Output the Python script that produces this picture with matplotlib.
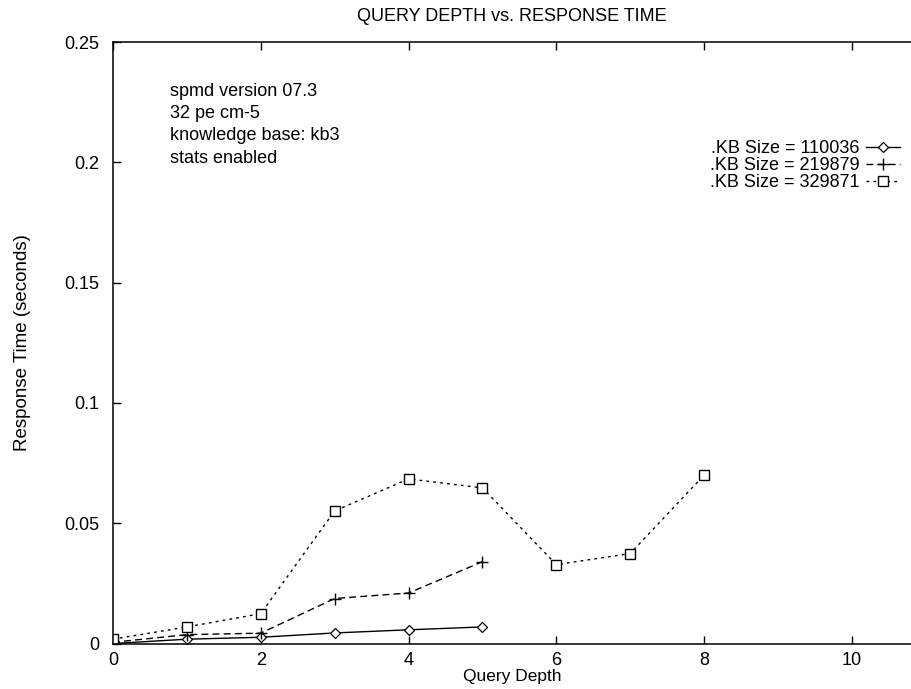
import numpy as np
import matplotlib.pyplot as plt

plt.rcParams['font.family'] = ['Liberation Sans', 'DejaVu Sans']

# values
depth_a = [0, 1, 2, 3, 4, 5]
time_a = [0.0, 0.0018, 0.0026, 0.0044, 0.0057, 0.0069]

depth_b = [0, 1, 2, 3, 4, 5]
time_b = [0.0005, 0.0037, 0.0043, 0.0187, 0.021, 0.034]

depth_c = [0, 1, 2, 3, 4, 5, 6, 7, 8]
time_c = [0.0018, 0.0069, 0.0124, 0.0551, 0.0684, 0.0647, 0.0328, 0.0374, 0.070]

labels = ['.KB Size = 110036', '.KB Size = 219879', '.KB Size = 329871']
notes = ['spmd version 07.3', '32 pe cm-5', 'knowledge base: kb3', 'stats enabled']

fig = plt.figure(figsize=(9.11, 6.89), dpi=100)
ax = fig.add_axes([0.124, 0.066, 0.876, 0.873])

ax.plot(depth_a, time_a, color='black', lw=1.0, ls='-', marker='D', ms=5,
        mfc='white', mec='black', mew=0.9, label=labels[0])
ax.plot(depth_b, time_b, color='black', lw=1.0, ls=(0, (5, 3)), marker='+', ms=9,
        mew=1.0, label=labels[1])
ax.plot(depth_c, time_c, color='black', lw=1.0, ls=(0, (2, 3)), marker='s', ms=7,
        mfc='white', mec='black', mew=1.0, label=labels[2])

ax.set_xlim(0, 10.8)
ax.set_ylim(0, 0.25)
ax.set_xticks([0, 2, 4, 6, 8, 10])
ax.set_yticks([0, 0.05, 0.1, 0.15, 0.2, 0.25])
ax.set_yticklabels(['0', '0.05', '0.1', '0.15', '0.2', '0.25'])
ax.tick_params(direction='in', length=6, width=1, labelsize=13, top=True, right=False)
ax.tick_params(axis='x', pad=6)
ax.tick_params(axis='y', pad=10)
ax.spines['right'].set_visible(False)
for s in ax.spines.values():
    s.set_linewidth(1.1)

ax.set_title('QUERY DEPTH vs. RESPONSE TIME', fontsize=13, pad=15)
ax.set_xlabel('Query Depth', fontsize=12.5, labelpad=0)
ax.set_ylabel('Response Time (seconds)', fontsize=13.5, labelpad=24)

for i, t in enumerate(notes):
    ax.text(0.071, 0.918 - i * 0.037, t, transform=ax.transAxes, fontsize=13,
            va='center', ha='left')

leg = ax.legend(loc='upper right', bbox_to_anchor=(1.0, 0.855), frameon=False,
                markerfirst=False, fontsize=13, handlelength=1.9, handletextpad=0.35,
                labelspacing=0.0, borderaxespad=0.2)

fig.savefig('out.png', dpi=100)
